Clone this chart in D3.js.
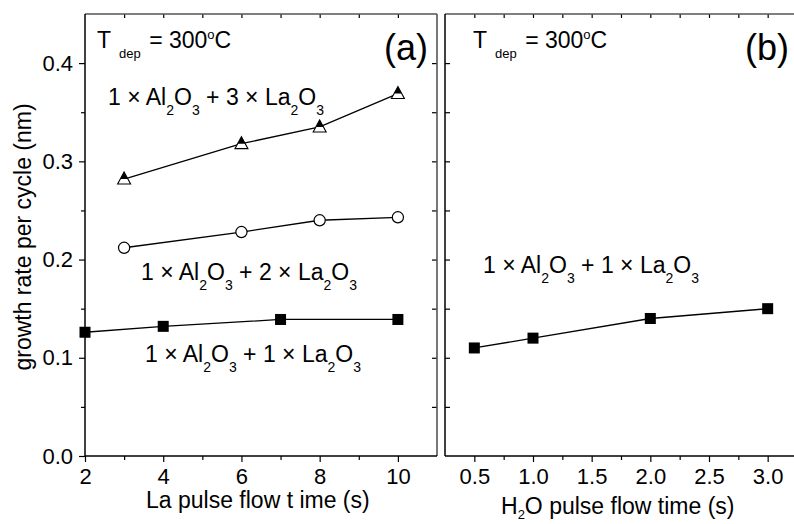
<!DOCTYPE html>
<html>
<head>
<meta charset="utf-8">
<script src="https://cdn.jsdelivr.net/npm/d3@7"></script>
<style>
  html, body { margin: 0; padding: 0; background: #fff; overflow: hidden; }
  svg { display: block; font-family: "Liberation Sans", Arial, sans-serif; }
</style>
</head>
<body>
<svg id="chart" width="794" height="524"></svg>
<script>
// ---- data ----
// panel (a): growth rate vs La pulse time, three cycle ratios
const laTime3 = [3, 6, 8, 10];
const rate3La = [0.282, 0.318, 0.335, 0.369];
const laTime2 = [3, 6, 8, 10];
const rate2La = [0.212, 0.228, 0.240, 0.243];
const laTime1 = [2, 4, 7, 10];
const rate1La = [0.126, 0.132, 0.139, 0.139];
// panel (b): growth rate vs H2O pulse time
const h2oTime = [0.5, 1.0, 2.0, 3.0];
const rateH2O = [0.110, 0.120, 0.140, 0.150];

const yTicks = [0.0, 0.1, 0.2, 0.3, 0.4];
const yMinor = [0.05, 0.15, 0.25, 0.35];
const xTicksA = [2, 4, 6, 8, 10];
const xMinorA = [3, 5, 7, 9];
const xTicksB = [0.5, 1.0, 1.5, 2.0, 2.5, 3.0];
const xMinorB = [0.75, 1.25, 1.75, 2.25, 2.75];

// ---- layout ----
const svg = d3.select("#chart");
const plotTop = 14, plotBottom = 456;
const y = d3.scaleLinear().domain([0, 0.45]).range([plotBottom, plotTop]);
const xA = d3.scaleLinear().domain([2, 11]).range([85, 437]);
const xB = d3.scaleLinear().domain([0.25, 3.25]).range([445, 797]);

const TICK_FONT = 22, TEXT_FONT = 23;

function styleAxis(g, labels) {
  g.select(".domain").remove();
  g.selectAll(".tick line").attr("stroke", "#000").attr("stroke-width", 1.2);
  g.selectAll(".tick text")
    .attr("fill", "#000")
    .attr("font-size", TICK_FONT)
    .attr("font-family", "Liberation Sans, Arial, sans-serif");
  if (!labels) g.selectAll(".tick text").remove();
}

function frame(x0, x1) {
  const f = svg.append("g").attr("fill", "none");
  f.append("line").attr("x1", x0).attr("x2", x1).attr("y1", plotTop).attr("y2", plotTop)
    .attr("stroke", "#555").attr("stroke-width", 1.4);
  f.append("line").attr("x1", x1).attr("x2", x1).attr("y1", plotTop).attr("y2", plotBottom)
    .attr("stroke", "#555").attr("stroke-width", 1.6);
  f.append("line").attr("x1", x0).attr("x2", x0).attr("y1", plotTop).attr("y2", plotBottom)
    .attr("stroke", "#000").attr("stroke-width", 1.5);
  f.append("line").attr("x1", x0).attr("x2", x1).attr("y1", plotBottom).attr("y2", plotBottom)
    .attr("stroke", "#000").attr("stroke-width", 1.5);
}

// ---- panel (a) axes ----
svg.append("g").attr("transform", `translate(0,${plotBottom})`)
  .call(d3.axisBottom(xA).tickValues(xTicksA).tickSize(6).tickPadding(6).tickFormat(d3.format("d")))
  .call(g => styleAxis(g, true));
svg.append("g").attr("transform", `translate(0,${plotBottom})`)
  .call(d3.axisBottom(xA).tickValues(xMinorA).tickSize(4))
  .call(g => styleAxis(g, false));
svg.append("g").attr("transform", `translate(0,${plotTop})`)
  .call(d3.axisTop(xA).tickValues(d3.range(3, 11)).tickSize(-4))
  .call(g => styleAxis(g, false));
svg.append("g").attr("transform", `translate(${xA.range()[0]},0)`)
  .call(d3.axisLeft(y).tickValues(yTicks).tickSize(6).tickPadding(6).tickFormat(d3.format(".1f")))
  .call(g => styleAxis(g, true));
svg.append("g").attr("transform", `translate(${xA.range()[0]},0)`)
  .call(d3.axisLeft(y).tickValues(yMinor).tickSize(4))
  .call(g => styleAxis(g, false));
svg.append("g").attr("transform", `translate(${xA.range()[1]},0)`)
  .call(d3.axisRight(y).tickValues(yTicks.slice(1).concat(yMinor)).tickSize(-5))
  .call(g => styleAxis(g, false));
frame(xA.range()[0], xA.range()[1]);

// ---- panel (b) axes ----
svg.append("g").attr("transform", `translate(0,${plotBottom})`)
  .call(d3.axisBottom(xB).tickValues(xTicksB).tickSize(6).tickPadding(6).tickFormat(d3.format(".1f")))
  .call(g => styleAxis(g, true));
svg.append("g").attr("transform", `translate(0,${plotBottom})`)
  .call(d3.axisBottom(xB).tickValues(xMinorB).tickSize(4))
  .call(g => styleAxis(g, false));
svg.append("g").attr("transform", `translate(0,${plotTop})`)
  .call(d3.axisTop(xB).tickValues(xTicksB.concat(xMinorB)).tickSize(-4))
  .call(g => styleAxis(g, false));
svg.append("g").attr("transform", `translate(${xB.range()[0]},0)`)
  .call(d3.axisLeft(y).tickValues(yTicks.slice(1).concat(yMinor)).tickSize(-5))
  .call(g => styleAxis(g, false));
frame(xB.range()[0], xB.range()[1]);

// ---- series ----
const line = (xs, sx) => d3.line().x((d, i) => sx(xs[i])).y(d => y(d));

function drawLine(xs, ys, sx) {
  svg.append("path").datum(ys).attr("d", line(xs, sx))
    .attr("fill", "none").attr("stroke", "#000").attr("stroke-width", 1.3);
}

function drawSquares(xs, ys, sx) {
  svg.append("g").selectAll("rect").data(ys).join("rect")
    .attr("x", (d, i) => sx(xs[i]) - 5.5).attr("y", d => y(d) - 5.5)
    .attr("width", 11).attr("height", 11).attr("fill", "#000");
}

function drawCircles(xs, ys, sx) {
  svg.append("g").selectAll("circle").data(ys).join("circle")
    .attr("cx", (d, i) => sx(xs[i])).attr("cy", d => y(d)).attr("r", 5.6)
    .attr("fill", "#fff").attr("stroke", "#000").attr("stroke-width", 1.2);
}

// half-filled up triangles: white body, black apex half
function drawTriangles(xs, ys, sx) {
  const g = svg.append("g");
  ys.forEach((d, i) => {
    const cx = sx(xs[i]), cy = y(d);
    const hw = 6.5, up = 7, dn = 5;
    g.append("path")
      .attr("d", `M${cx},${cy - up}L${cx + hw},${cy + dn}L${cx - hw},${cy + dn}Z`)
      .attr("fill", "#fff").attr("stroke", "#000").attr("stroke-width", 1.1);
    const frac = up / (up + dn);
    g.append("path")
      .attr("d", `M${cx},${cy - up}L${cx + hw * frac},${cy}L${cx - hw * frac},${cy}Z`)
      .attr("fill", "#000");
  });
}

drawLine(laTime3, rate3La, xA); drawTriangles(laTime3, rate3La, xA);
drawLine(laTime2, rate2La, xA); drawCircles(laTime2, rate2La, xA);
drawLine(laTime1, rate1La, xA); drawSquares(laTime1, rate1La, xA);
drawLine(h2oTime, rateH2O, xB); drawSquares(h2oTime, rateH2O, xB);

// ---- annotations ----
const SUB = 14, SHIFT = 10;

// "1 × Al2O3 + n × La2O3"
function formula(x, yb, n) {
  const parts = [["1 × Al", 0], ["2", 1], ["O", 0], ["3", 1], [` + ${n} × La`, 0], ["2", 1], ["O", 0], ["3", 1]];
  const t = svg.append("text").attr("x", x).attr("y", yb)
    .attr("font-size", TEXT_FONT).attr("fill", "#000");
  let state = 0;
  parts.forEach(([s, sub]) => {
    const dy = sub === state ? 0 : (sub ? SHIFT : -SHIFT);
    state = sub;
    t.append("tspan").attr("dy", dy).attr("font-size", sub ? SUB : TEXT_FONT).text(s);
  });
}

function tdep(x, yb) {
  const t = svg.append("text").attr("x", x).attr("y", yb)
    .attr("font-size", TEXT_FONT).attr("fill", "#000");
  t.append("tspan").text("T");
  t.append("tspan").attr("font-size", 13).attr("dx", 8).attr("dy", 10).text("dep");
  t.append("tspan").attr("dy", -10).attr("dx", 2).text(" = 300");
  t.append("tspan").attr("font-size", 13).attr("dy", -9).text("o");
  t.append("tspan").attr("dy", 9).text("C");
}

tdep(97, 48);
tdep(473, 48);

formula(108, 105, 3);
formula(141, 280, 2);
formula(145, 362, 1);
formula(483, 273, 1);

svg.append("text").attr("x", 428).attr("y", 60).attr("text-anchor", "end")
  .attr("font-size", 36).text("(a)");
svg.append("text").attr("x", 789).attr("y", 60).attr("text-anchor", "end")
  .attr("font-size", 36).text("(b)");

// axis titles
svg.append("text").attr("transform", "translate(31,237) rotate(-90)")
  .attr("text-anchor", "middle").attr("font-size", TEXT_FONT).text("growth rate per cycle (nm)");
svg.append("text").attr("x", 146).attr("y", 508)
  .attr("font-size", TEXT_FONT).text("La pulse flow t ime (s)");
const h = svg.append("text").attr("x", 501).attr("y", 514).attr("font-size", TEXT_FONT);
h.append("tspan").text("H");
h.append("tspan").attr("font-size", 13).attr("dy", 5).text("2");
h.append("tspan").attr("dy", -5).text("O pulse flow time (s)");
</script>
</body>
</html>
